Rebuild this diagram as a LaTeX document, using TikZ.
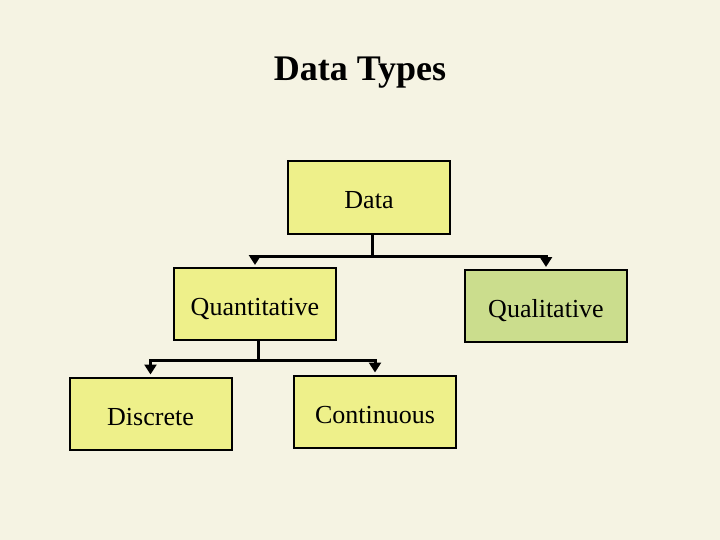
\documentclass[tikz,border=0pt]{standalone}
\usepackage{fontspec}
\setmainfont{Liberation Serif}
\usetikzlibrary{arrows.meta}

\definecolor{bgcream}{HTML}{F5F3E3}
\definecolor{boxyellow}{HTML}{EEF08A}
\definecolor{boxgreen}{HTML}{CBDD8D}

\begin{document}
\begin{tikzpicture}[x=1pt,y=-1pt,
  typebox/.style={draw=black,line width=2pt,fill=boxyellow,minimum width=162pt,minimum height=72pt,inner sep=0pt,text height=23pt,text depth=0pt,font=\fontsize{26}{30}\selectfont},
  branch/.style={line width=3pt},
  drop/.style={line width=3pt,-{Triangle[width=12pt,length=10pt]},shorten >=2pt}]
\fill[bgcream] (0,0) rectangle (720,540);
\useasboundingbox (0,0) rectangle (720,540);
\node[font=\fontsize{36}{42}\selectfont\bfseries] (title) at (360,73) {Data Types};
% boxes
\node[typebox] (data) at (369,197.5) {Data};
\node[typebox] (quan) at (255,304) {Quantitative};
\node[typebox,fill=boxgreen] (qual) at (546,306) {Qualitative};
\node[typebox] (disc) at (150.5,413.5) {Discrete};
\node[typebox] (cont) at (375,411.5) {Continuous};
% connectors
\coordinate (j1) at (372,256);
\draw[branch] ([xshift=3pt]data.south) -- (j1);
\draw[drop] (j1) -| (quan.north);
\draw[drop] (j1) -| (qual.north);
\coordinate (j2) at (258,360);
\draw[branch] ([xshift=3pt]quan.south) -- (j2);
\draw[drop] (j2) -| (disc.north);
\draw[drop] (j2) -| (cont.north);
\end{tikzpicture}
\end{document}
